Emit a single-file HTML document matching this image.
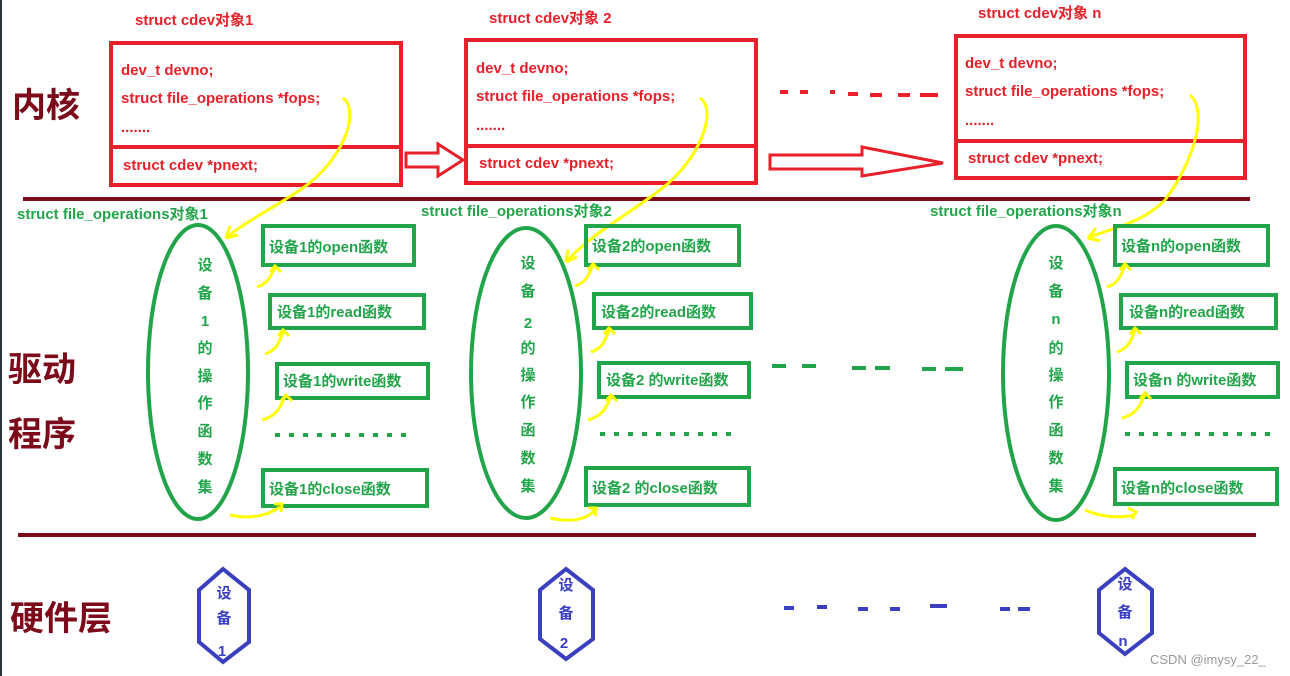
<!DOCTYPE html>
<html><head><meta charset="utf-8"><style>
html,body{margin:0;padding:0;background:#fff;}
svg{display:block;}
text{font-family:"Liberation Sans","Noto Sans CJK SC",sans-serif;font-weight:bold;}
</style></head><body>
<svg width="1290" height="676" viewBox="0 0 1290 676" xmlns="http://www.w3.org/2000/svg">
<rect x="0" y="0" width="2" height="676" fill="#2a3038"/>
<!-- layer labels -->
<g fill="#7b0a1a" font-size="34">
<text x="12" y="117">内核</text>
<text x="8" y="381">驱动</text>
<text x="8" y="446">程序</text>
<text x="10" y="630">硬件层</text>
</g>
<!-- separators -->
<line x1="23" y1="199" x2="1250" y2="199" stroke="#7b0a1a" stroke-width="4"/>
<line x1="18" y1="535" x2="1256" y2="535" stroke="#7b0a1a" stroke-width="4"/>
<!-- cdev boxes -->
<g fill="none" stroke="#e8202a" stroke-width="4">
<rect x="111" y="43" width="290" height="142"/><line x1="111" y1="147" x2="401" y2="147"/>
<rect x="466" y="40" width="290" height="143"/><line x1="466" y1="146" x2="756" y2="146"/>
<rect x="956" y="36" width="289" height="142"/><line x1="956" y1="141" x2="1245" y2="141"/>
<path d="M406 153 H438 V144 L463 160 L438 176 V167 H406 Z" stroke-width="3"/>
<path d="M770 155 H862 V147 L943 163 L862 176 V169 H770 Z" stroke-width="3"/>
</g>
<g fill="#e8202a" font-size="15">
<text x="135" y="25">struct cdev对象1</text>
<text x="489" y="23">struct cdev对象 2</text>
<text x="978" y="18">struct cdev对象 n</text>
<text x="121" y="75">dev_t devno;</text>
<text x="121" y="103">struct file_operations *fops;</text>
<text x="121" y="132">.......</text>
<text x="123" y="170">struct cdev *pnext;</text>
<text x="476" y="73">dev_t devno;</text>
<text x="476" y="101">struct file_operations *fops;</text>
<text x="476" y="130">.......</text>
<text x="479" y="168">struct cdev *pnext;</text>
<text x="965" y="68">dev_t devno;</text>
<text x="965" y="96">struct file_operations *fops;</text>
<text x="965" y="125">.......</text>
<text x="968" y="163">struct cdev *pnext;</text>
</g>
<path d="M780 92 h8 M800 92 h8 M830 92 h5 M848 94 h10 M870 95 h12 M898 95 h12 M920 95 h18" stroke="#e8202a" stroke-width="4"/>
<!-- yellow fops arrows -->
<g fill="none" stroke="#ffff00" stroke-width="3">
<path d="M343 98 C360 110 345 160 300 190 C270 210 245 222 226 238"/>
<path d="M226 238 l4 -12 M226 238 l12 -3"/>
<path d="M700 98 C718 110 700 160 660 190 C620 220 590 235 566 262"/>
<path d="M566 262 l2 -12 M566 262 l11 -5"/>
<path d="M1190 95 C1208 110 1195 160 1165 200 C1140 225 1110 228 1088 238"/>
<path d="M1088 238 l8 -10 M1088 238 l12 3"/>
</g>
<!-- green titles -->
<g fill="#22a54a" font-size="15">
<text x="17" y="219">struct file_operations对象1</text>
<text x="421" y="216">struct file_operations对象2</text>
<text x="930" y="216">struct file_operations对象n</text>
</g>
<!-- ellipses -->
<g fill="none" stroke="#22a54a" stroke-width="4">
<ellipse cx="198" cy="372" rx="50" ry="147"/>
<ellipse cx="526" cy="373" rx="55" ry="145"/>
<ellipse cx="1056" cy="373" rx="53" ry="147"/>
<rect x="263" y="226" width="151" height="39"/>
<rect x="270" y="295" width="154" height="33"/>
<rect x="277" y="364" width="151" height="34"/>
<rect x="263" y="470" width="164" height="36"/>
<rect x="586" y="226" width="153" height="39"/>
<rect x="594" y="294" width="157" height="34"/>
<rect x="599" y="363" width="150" height="34"/>
<rect x="586" y="468" width="163" height="37"/>
<rect x="1115" y="226" width="153" height="39"/>
<rect x="1121" y="295" width="155" height="33"/>
<rect x="1127" y="363" width="151" height="34"/>
<rect x="1115" y="469" width="162" height="35"/>
</g>
<g fill="#22a54a" font-size="15" text-anchor="middle">
<g transform="translate(205,0)">
<text x="0" y="270">设</text><text x="0" y="298">备</text><text x="0" y="326">1</text><text x="0" y="353">的</text><text x="0" y="381">操</text><text x="0" y="408">作</text><text x="0" y="436">函</text><text x="0" y="464">数</text><text x="0" y="492">集</text>
</g>
<g transform="translate(528,0)">
<text x="0" y="268">设</text><text x="0" y="296">备</text><text x="0" y="328">2</text><text x="0" y="353">的</text><text x="0" y="380">操</text><text x="0" y="407">作</text><text x="0" y="435">函</text><text x="0" y="463">数</text><text x="0" y="491">集</text>
</g>
<g transform="translate(1056,0)">
<text x="0" y="268">设</text><text x="0" y="296">备</text><text x="0" y="324">n</text><text x="0" y="353">的</text><text x="0" y="380">操</text><text x="0" y="407">作</text><text x="0" y="435">函</text><text x="0" y="463">数</text><text x="0" y="491">集</text>
</g>
</g>
<g fill="#22a54a" font-size="15">
<text x="269" y="252">设备1的open函数</text>
<text x="277" y="317">设备1的read函数</text>
<text x="283" y="386">设备1的write函数</text>
<text x="269" y="494">设备1的close函数</text>
<text x="592" y="251">设备2的open函数</text>
<text x="601" y="317">设备2的read函数</text>
<text x="606" y="385">设备2 的write函数</text>
<text x="592" y="493">设备2 的close函数</text>
<text x="1121" y="251">设备n的open函数</text>
<text x="1129" y="317">设备n的read函数</text>
<text x="1133" y="385">设备n 的write函数</text>
<text x="1121" y="493">设备n的close函数</text>
</g>
<g stroke="#22a54a" stroke-width="4" stroke-dasharray="5 9">
<line x1="275" y1="435" x2="415" y2="435"/>
<line x1="600" y1="434" x2="740" y2="434"/>
<line x1="1125" y1="434" x2="1275" y2="434"/>
<path d="M772 366 h14 M802 366 h14 M852 368 h14 M875 368 h15 M922 369 h14 M945 369 h18" stroke-dasharray="none"/>
</g>
<!-- yellow small arrows -->
<g fill="none" stroke="#ffff00" stroke-width="3">
<path d="M257 287 c10 -3 14 -10 18 -20 M270 272 l5 -6 l6 6"/>
<path d="M265 354 c10 -3 14 -10 18 -22 M278 336 l5 -6 l6 6"/>
<path d="M262 420 c12 -3 18 -10 23 -24 M281 401 l5 -6 l6 6"/>
<path d="M230 515 c18 4 35 2 50 -8 M274 504 l8 0 l-1 8"/>
<path d="M575 286 c10 -3 14 -10 18 -22 M588 270 l5 -6 l6 6"/>
<path d="M591 352 c10 -3 14 -10 18 -22 M604 334 l5 -6 l6 6"/>
<path d="M588 420 c12 -3 18 -10 23 -24 M606 401 l5 -6 l6 6"/>
<path d="M550 518 c18 4 35 3 45 -8 M588 508 l8 0 l-1 8"/>
<path d="M1107 287 c10 -3 14 -10 18 -22 M1120 270 l5 -6 l6 6"/>
<path d="M1117 352 c10 -3 14 -10 18 -22 M1130 334 l5 -6 l6 6"/>
<path d="M1122 418 c12 -3 18 -10 23 -24 M1140 399 l5 -6 l6 6"/>
<path d="M1085 510 c18 8 35 8 50 5 M1128 508 l8 4 l-4 7"/>
</g>
<!-- hexagons -->
<g fill="none" stroke="#3a3fc0" stroke-width="4">
<polygon points="223,569 249,590 249,642 223,662 199,642 199,590"/>
<polygon points="566,569 593,590 593,639 566,659 540,639 540,590"/>
<polygon points="1125,569 1152,590 1152,633 1125,654 1099,633 1099,590"/>
</g>
<g fill="#3a3fc0" font-size="15" text-anchor="middle">
<text x="224" y="598">设</text><text x="224" y="623">备</text><text x="222" y="656">1</text>
<text x="566" y="590">设</text><text x="566" y="618">备</text><text x="564" y="648">2</text>
<text x="1125" y="589">设</text><text x="1125" y="617">备</text><text x="1123" y="646">n</text>
</g>
<path d="M784 608 h10 M817 607 h10 M858 609 h10 M890 609 h10 M930 606 h17 M1000 609 h10 M1018 609 h12" stroke="#3a3fc0" stroke-width="4"/>
<text x="1150" y="664" fill="#9a9a9a" font-size="13" style="font-weight:normal">CSDN @imysy_22_</text>
</svg>
</body></html>
